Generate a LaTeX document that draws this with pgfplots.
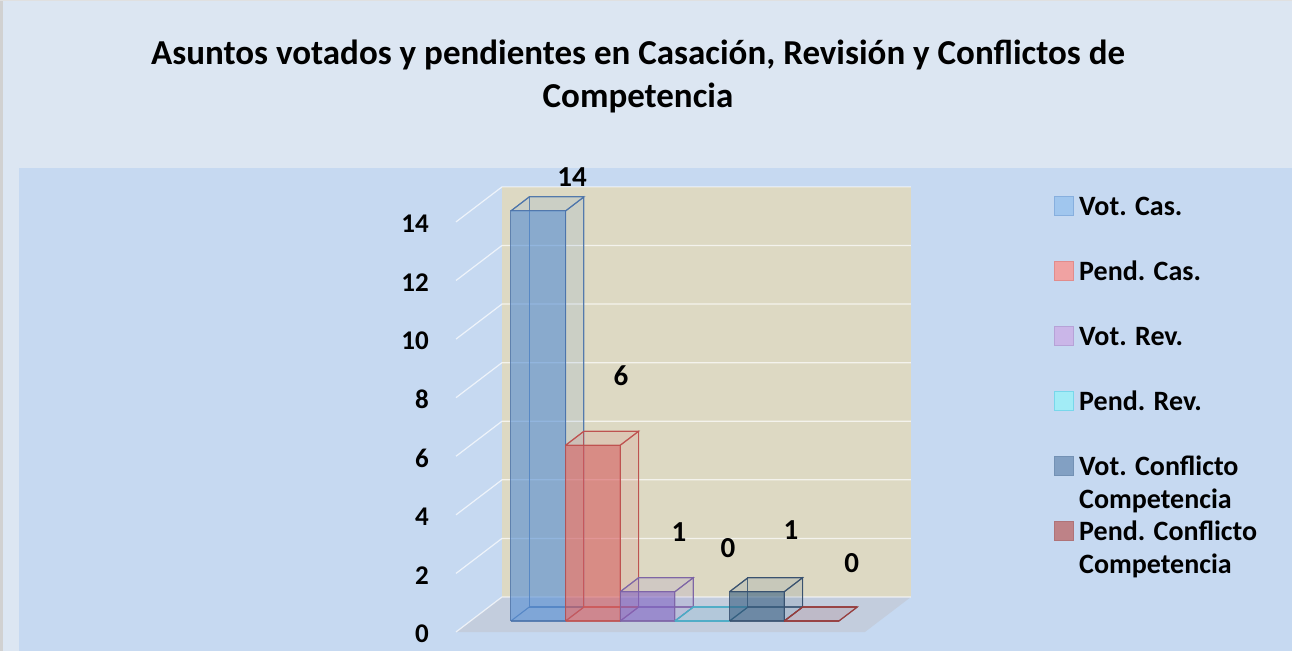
\documentclass[border=0pt]{standalone}
\usepackage{fontspec}
\setmainfont{Carlito}
\usepackage{pgfplots}
\usepackage{pgfplotstable}
\pgfplotsset{compat=1.18}
\definecolor{bgtop}{RGB}{220,230,242}
\definecolor{bgplot}{RGB}{198,217,241}
\definecolor{wallc}{RGB}{221,217,195}
\definecolor{floorc}{RGB}{195,205,221}
\definecolor{c1}{RGB}{82,140,212}\definecolor{c1e}{RGB}{75,115,170}
\definecolor{c2}{RGB}{214,89,92}\definecolor{c2e}{RGB}{190,80,78}
\definecolor{c3}{RGB}{128,97,195}\definecolor{c3e}{RGB}{125,100,165}
\definecolor{c4}{RGB}{75,172,198}\definecolor{c4e}{RGB}{75,172,198}
\definecolor{c5}{RGB}{53,93,128}\definecolor{c5e}{RGB}{55,80,110}
\definecolor{c6}{RGB}{160,60,60}\definecolor{c6e}{RGB}{150,60,60}
\definecolor{lg1}{RGB}{160,198,238}\definecolor{lg1e}{RGB}{135,175,222}
\definecolor{lg2}{RGB}{240,162,162}\definecolor{lg2e}{RGB}{225,140,140}
\definecolor{lg3}{RGB}{202,182,232}\definecolor{lg3e}{RGB}{182,162,215}
\definecolor{lg4}{RGB}{162,236,246}\definecolor{lg4e}{RGB}{120,215,235}
\definecolor{lg5}{RGB}{130,160,195}\definecolor{lg5e}{RGB}{115,145,180}
\definecolor{lg6}{RGB}{190,130,135}\definecolor{lg6e}{RGB}{175,115,120}
\newcommand\titlefont{\fontsize{35}{40}\selectfont\bfseries}
\newcommand\tickfont{\fontsize{27}{30}\selectfont\bfseries}
\newcommand\dlfont{\fontsize{29}{32}\selectfont\bfseries}
\newcommand\legfont{\fontsize{28}{30}\selectfont\bfseries}
\newcommand\ls{\rule[-6pt]{0pt}{26pt}}

\pgfplotstableread{
idx value
0 14
1 6
2 1
3 0
4 1
5 0
}\bardata

\pgfplotstableread{
a h d
0 0 1
1 0 1
1 1 1
0 1 1
0 0 1
}\backface
\pgfplotstableread{
a h d
0 0 0
0 0 1
}\lbedge
\pgfplotstableread{
a h d
0 1 0
0 1 1
}\ltedge
\pgfplotstableread{
a h d
1 0 0
1 0 1
1 1 1
1 1 0
1 0 0
}\rightface
\pgfplotstableread{
a h d
0 1 0
1 1 0
1 1 1
0 1 1
0 1 0
}\topface
\pgfplotstableread{
a h d
0 0 0
1 0 0
1 1 0
0 1 0
0 0 0
}\frontface

\pgfplotsset{table/cubtab/.style={x expr={\cubi+\thisrow{a}+0.264+0.336*\thisrow{d}}, y expr={\cubv*\thisrow{h}+0.375+0.478*\thisrow{d}}}}

\newcommand\cuboid[3]{%
  \pgfplotstablegetelem{#1}{value}\of\bardata
  \edef\cubv{\pgfplotsretval}%
  \def\cubi{#1}%
  \addplot[forget plot, mark=none, draw=#3, draw opacity=0.85, line width=1.1pt] table[cubtab]{\backface};
  \addplot[forget plot, mark=none, draw=#3, draw opacity=0.85, line width=1.1pt] table[cubtab]{\lbedge};
  \addplot[forget plot, mark=none, draw=#3, draw opacity=0.85, line width=1.1pt] table[cubtab]{\ltedge};
  \addplot[forget plot, mark=none, fill=#2, fill opacity=0.13, draw=#3, draw opacity=0.85, line width=1.1pt] table[cubtab]{\rightface};
  \addplot[forget plot, mark=none, fill=#2, fill opacity=0.13, draw=#3, draw opacity=0.85, line width=1.1pt] table[cubtab]{\topface};
  \addplot[forget plot, mark=none, fill=#2, fill opacity=0.6, draw=#3, draw opacity=0.85, line width=1.1pt] table[cubtab]{\frontface};
}

\begin{document}
\begin{tikzpicture}
\useasboundingbox (0,0) rectangle (1292pt,651pt);
\fill[bgtop] (0,0) rectangle (1292pt,651pt);
\fill[bgplot] (19pt,0) rectangle (1292pt,483pt);
\fill[black!18] (0,0) rectangle (3pt,651pt);
\fill[black!12] (0,649.5pt) rectangle (1292pt,651pt);
\node[anchor=base, font=\titlefont, inner sep=0pt] at (638pt,586pt) {Asuntos votados y pendientes en Casación, Revisión y Conflictos de};
\node[anchor=base, font=\titlefont, inner sep=0pt] at (638pt,543pt) {Competencia};
\begin{axis}[
  at={(456pt,19pt)}, anchor=south west, scale only axis,
  width=454.9pt, height=445.1pt,
  xmin=-0.74, xmax=7.581, ymin=0, ymax=15.195,
  clip=false,
  axis line style={draw=none},
  xtick=\empty,
  ytick={0,2,...,14},
  major tick length=0pt,
  tick style={draw=none},
  /pgf/number format/assume math mode=true,
  yticklabel style={font=\tickfont, anchor=east, inner sep=0pt, xshift=-27pt, yshift=-2pt},
  legend style={at={(1.3146,0.981)}, anchor=north west, draw=none, fill=none,
    inner sep=0pt, row sep=43.5pt, column sep=5pt, font=\legfont,
    nodes={inner sep=0pt}},
  legend cell align=left,
]
\addlegendimage{legend image code/.code={\filldraw[fill=lg1, draw=lg1e, line width=1pt] (0pt,-9.5pt) rectangle (19pt,9.5pt);}}
\addlegendentry{\ls Vot. Cas.}
\addlegendimage{legend image code/.code={\filldraw[fill=lg2, draw=lg2e, line width=1pt] (0pt,-9.5pt) rectangle (19pt,9.5pt);}}
\addlegendentry{\ls Pend. Cas.}
\addlegendimage{legend image code/.code={\filldraw[fill=lg3, draw=lg3e, line width=1pt] (0pt,-9.5pt) rectangle (19pt,9.5pt);}}
\addlegendentry{\ls Vot. Rev.}
\addlegendimage{legend image code/.code={\filldraw[fill=lg4, draw=lg4e, line width=1pt] (0pt,-9.5pt) rectangle (19pt,9.5pt);}}
\addlegendentry{\ls Pend. Rev.}
\addlegendimage{legend image code/.code={\filldraw[fill=lg5, draw=lg5e, line width=1pt] (0pt,-9.5pt) rectangle (19pt,9.5pt);}}
\addlegendentry{\ls\smash{\rlap{\raisebox{-33pt}{Competencia}}}Vot. Conflicto}
\addlegendimage{legend image code/.code={\filldraw[fill=lg6, draw=lg6e, line width=1pt] (0pt,-9.5pt) rectangle (19pt,9.5pt);}}
\addlegendentry{\ls\smash{\rlap{\raisebox{-33pt}{Competencia}}}Pend. Conflicto}

% back wall and floor
\addplot[forget plot, mark=none, fill=wallc, draw=none] coordinates {(0.101,1.195) (7.581,1.195) (7.581,15.195) (0.101,15.195)};
\addplot[forget plot, mark=none, fill=floorc, draw=none] coordinates {(-0.74,0) (6.74,0) (7.581,1.195) (0.101,1.195)};
\pgfplotsinvokeforeach{0,2,...,14}{
  \addplot[forget plot, mark=none, draw=white, draw opacity=0.7, line width=1.2pt] table[row sep=\\, y expr={#1+1.195*\thisrow{d}}] {x d\\ -0.74 0\\ 0.101 1\\ 7.581 1\\};
}
% bars
\cuboid{0}{c1}{c1e}
\cuboid{1}{c2}{c2e}
\cuboid{2}{c3}{c3e}
\cuboid{3}{c4}{c4e}
\cuboid{4}{c5}{c5e}
\cuboid{5}{c6}{c6e}
% data labels
\addplot[forget plot, draw=none, mark=none, nodes near coords, point meta=explicit symbolic,
  nodes near coords align={center},
  every node near coord/.append style={font=\dlfont, inner sep=0pt, text=black}]
  table[meta=lab]{
x y lab
1.382 15.53 14
2.276 8.74 6
3.339 3.41 1
4.235 2.87 0
5.386 3.48 1
6.5 2.36 0
};
\end{axis}
\end{tikzpicture}
\end{document}
